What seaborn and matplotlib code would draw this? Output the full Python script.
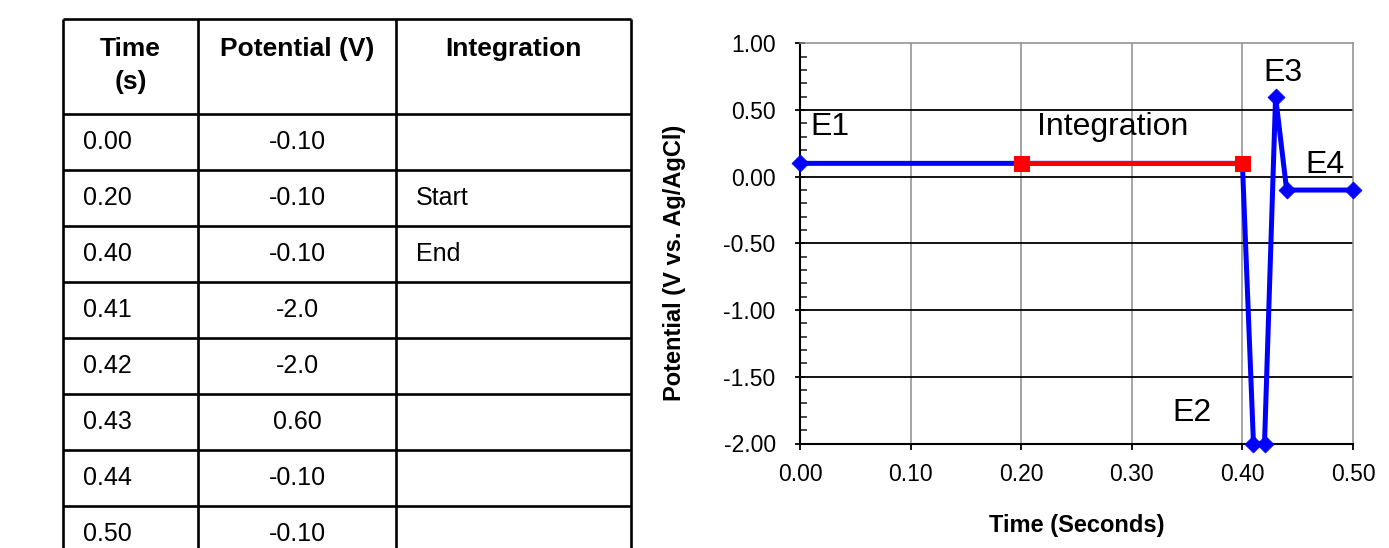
import matplotlib
matplotlib.use("Agg")
import matplotlib.pyplot as plt
import seaborn as sns
from matplotlib.ticker import MultipleLocator, FormatStrFormatter

sns.set_theme(style="white")
plt.rcParams["font.family"] = ["Liberation Sans", "DejaVu Sans"]

# Waveform definition table
table_headers = ["Time\n(s)", "Potential (V)", "Integration"]
table_time = ["0.00", "0.20", "0.40", "0.41", "0.42", "0.43", "0.44", "0.50"]
table_potential = ["-0.10", "-0.10", "-0.10", "-2.0", "-2.0", "0.60", "-0.10", "-0.10"]
table_integration = ["", "Start", "End", "", "", "", "", ""]

# Plotted waveform
time_s = [0.00, 0.20, 0.40, 0.41, 0.42, 0.43, 0.44, 0.50]
potential_v = [0.10, 0.10, 0.10, -2.00, -2.00, 0.60, -0.10, -0.10]
integration_time = [0.20, 0.40]
integration_potential = [0.10, 0.10]

W, H = 1389, 548
fig = plt.figure(figsize=(W / 100, H / 100), dpi=100)
fig.patch.set_facecolor("white")

# ---------------- table (pixel coordinates) ----------------
tax = fig.add_axes([0, 0, 1, 1])
tax.set_xlim(0, W)
tax.set_ylim(H, 0)
tax.axis("off")

col_edges = [63, 198, 396, 631]
row_top = 19
header_bottom = 114
row_h = 56
n_rows = len(table_time)
row_edges = [row_top, header_bottom] + [header_bottom + row_h * (i + 1) for i in range(n_rows)]
lw_tab = 1.9
tax.vlines(col_edges, row_top, row_edges[-1], color="black", lw=lw_tab)
tax.hlines(row_edges, col_edges[0], col_edges[-1], color="black", lw=lw_tab)

fs_tab = 18
col_centers = [(col_edges[i] + col_edges[i + 1]) / 2 for i in range(3)]
for c, h in zip(col_centers, table_headers):
    tax.text(c, 37, h, ha="center", va="top", fontsize=19, fontweight="bold",
             linespacing=1.5, color="black")

for i in range(n_rows):
    yc = header_bottom + row_h * i + row_h / 2
    tax.text(col_edges[0] + 20, yc, table_time[i], ha="left", va="center",
             fontsize=fs_tab, color="black")
    tax.text(col_centers[1], yc, table_potential[i], ha="center", va="center",
             fontsize=fs_tab, color="black")
    if table_integration[i]:
        tax.text(col_edges[2] + 20, yc, table_integration[i], ha="left", va="center",
                 fontsize=fs_tab, color="black")

# ---------------- waveform chart ----------------
ax = fig.add_axes([800 / W, 1 - 443.5 / H, 553 / W, 400.2 / H])
ax.set_facecolor("white")

blue = "#0000FF"
red = "#FF0000"
sns.lineplot(x=time_s, y=potential_v, color=blue, lw=3.6, sort=False,
             estimator=None, ax=ax, zorder=3)
step_t = [t for t in time_s if t not in integration_time]
step_v = [v for t, v in zip(time_s, potential_v) if t not in integration_time]
sns.scatterplot(x=step_t, y=step_v, marker="D", s=75, color=blue, edgecolor=blue,
                linewidth=0.5, ax=ax, zorder=5, clip_on=False)
sns.lineplot(x=integration_time, y=integration_potential, color=red, lw=3.6,
             marker="s", markersize=10.8, markeredgecolor=red, sort=False,
             estimator=None, ax=ax, zorder=4)

ax.set_xlim(0, 0.5)
ax.set_ylim(-2.0, 1.0)
ax.xaxis.set_major_locator(MultipleLocator(0.1))
ax.yaxis.set_major_locator(MultipleLocator(0.5))
ax.yaxis.set_minor_locator(MultipleLocator(0.1))
ax.xaxis.set_major_formatter(FormatStrFormatter("%.2f"))
ax.yaxis.set_major_formatter(FormatStrFormatter("%.2f"))

# grid: grey verticals, black horizontals
for xv in [0.1, 0.2, 0.3, 0.4]:
    ax.axvline(xv, color="#8c8c8c", lw=1.1, zorder=1)
for yv in [-1.5, -1.0, -0.5, 0.0, 0.5]:
    ax.axhline(yv, color="black", lw=1.3, zorder=1)

for side in ["top", "right"]:
    ax.spines[side].set_color("#8c8c8c")
    ax.spines[side].set_linewidth(1.1)
for side in ["left", "bottom"]:
    ax.spines[side].set_color("black")
    ax.spines[side].set_linewidth(1.5)

ax.tick_params(axis="y", which="major", direction="inout", length=7, width=1.3,
               labelsize=16.5, colors="black", left=True, pad=14)
ax.tick_params(axis="y", which="minor", direction="in", length=5, width=1.2,
               left=True)
ax.tick_params(axis="x", which="major", direction="out", length=4, width=1.3,
               labelsize=16.5, colors="black", bottom=True, pad=10)

ax.set_xlabel("Time (Seconds)", fontsize=17, fontweight="bold", labelpad=20,
              color="black")
ax.set_ylabel("Potential (V vs. Ag/AgCl)", fontsize=17, fontweight="bold",
              color="black")
ax.yaxis.set_label_coords(-0.206, 0.451)

fs_ann = 23
ax.text(0.009, 0.373, "E1", fontsize=fs_ann, ha="left", va="center", color="black")
ax.text(0.283, 0.373, "Integration", fontsize=fs_ann, ha="center", va="center", color="black")
ax.text(0.437, 0.78, "E3", fontsize=fs_ann, ha="center", va="center", color="black")
ax.text(0.475, 0.09, "E4", fontsize=fs_ann, ha="center", va="center", color="black")
ax.text(0.354, -1.77, "E2", fontsize=fs_ann, ha="center", va="center", color="black")

fig.savefig("out.png", dpi=100, facecolor="white")
